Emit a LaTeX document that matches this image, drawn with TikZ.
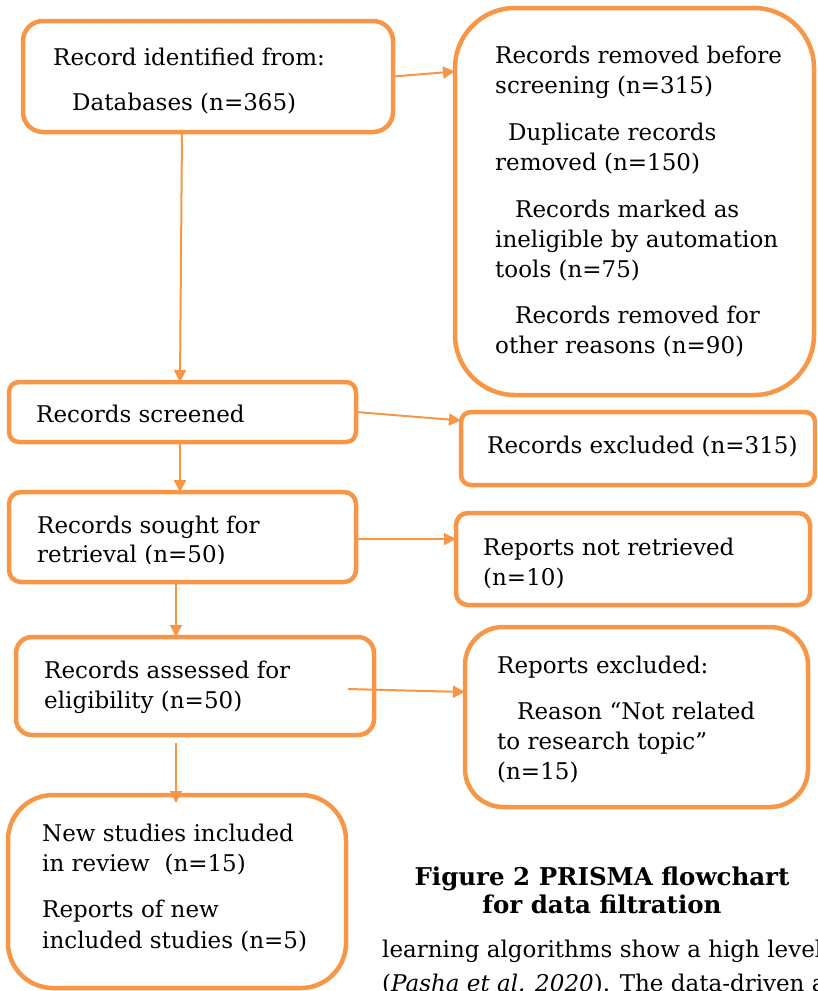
\documentclass[tikz,border=0pt]{standalone}
\usepackage{fontspec}
\setmainfont{DejaVu Serif}
\usetikzlibrary{arrows.meta}
\definecolor{prorange}{HTML}{F79646}
\newcommand\boxfont{\fontsize{23}{28}\selectfont}
\newcommand\capfont{\fontsize{24.5}{29}\selectfont\bfseries}
\tikzset{
  pbox/.style={draw=prorange, line width=4.5pt, anchor=north west, inner sep=0pt, outer sep=0pt},
  txt/.style={anchor=base west, inner sep=0pt, font=\boxfont},
  captxt/.style={anchor=base, inner sep=0pt, font=\capfont},
  arr/.style={draw=prorange, line width=2pt, -{Triangle[length=12pt,width=12pt]}}
}
\begin{document}
\begin{tikzpicture}[x=1pt,y=-1pt]
\useasboundingbox (0,0) rectangle (817,991);
\clip (0,0) rectangle (817,991);
% boxes
\node[pbox, rounded corners=20pt, minimum width=370pt, minimum height=111pt] (A) at (23,21) {};
\node[pbox, rounded corners=60pt, minimum width=359pt, minimum height=387pt] (B) at (455,8) {};
\node[pbox, rounded corners=10pt, minimum width=347pt, minimum height=60pt] (C) at (9,382) {};
\node[pbox, rounded corners=10pt, minimum width=354pt, minimum height=73pt] (D) at (461,412) {};
\node[pbox, rounded corners=12pt, minimum width=347pt, minimum height=90pt] (E) at (9,492) {};
\node[pbox, rounded corners=12pt, minimum width=354pt, minimum height=92pt] (F) at (456,513) {};
\node[pbox, rounded corners=16pt, minimum width=358pt, minimum height=98pt] (G) at (16,637) {};
\node[pbox, rounded corners=38pt, minimum width=343pt, minimum height=180pt] (H) at (465,627) {};
\node[pbox, rounded corners=45pt, minimum width=338pt, minimum height=193pt] (I) at (8,795) {};
% texts
\node[txt] (a1) at (53,65) {Record identified from:};
\node[txt] (a2) at (72,110) {Databases (n=365)};
\node[txt] (b1) at (495,63) {Records removed before};
\node[txt] (b2) at (495,93) {screening (n=315)};
\node[txt] (b3) at (508,140) {Duplicate records};
\node[txt] (b4) at (495,170) {removed (n=150)};
\node[txt] (b5) at (515,217) {Records marked as};
\node[txt] (b6) at (495,247) {ineligible by automation};
\node[txt] (b7) at (495,277) {tools (n=75)};
\node[txt] (b8) at (515,323) {Records removed for};
\node[txt] (b9) at (495,353) {other reasons (n=90)};
\node[txt] (c1) at (36,422) {Records screened};
\node[txt] (d1) at (487,453) {Records excluded (n=315)};
\node[txt] (e1) at (37,533) {Records sought for};
\begin{scope}
\clip (0,0) rectangle (817,563);
\node[txt] (e2) at (37,562) {retrieval (n=50)};
\end{scope}
\node[txt] (f1) at (483,555) {Reports not retrieved};
\begin{scope}
\clip (0,0) rectangle (817,587);
\node[txt] (f2) at (483,585) {(n=10)};
\end{scope}
\node[txt] (g1) at (44,678) {Records assessed for};
\node[txt] (g2) at (44,708) {eligibility (n=50)};
\node[txt] (h1) at (497,673) {Reports excluded:};
\node[txt] (h2) at (517,719) {Reason “Not related};
\node[txt] (h3) at (497,749) {to research topic”};
\node[txt] (h4) at (497,779) {(n=15)};
\node[txt] (i1) at (42,841) {New studies included};
\node[txt] (i2) at (42,871) {in review\ \ (n=15)};
\node[txt] (i3) at (42,917) {Reports of new};
\node[txt] (i4) at (42,948) {included studies (n=5)};
% caption and body text
\node[captxt] (cap1) at (602,885) {Figure 2 PRISMA flowchart};
\node[captxt] (cap2) at (602,913) {for data filtration};
\node[txt] (body1) at (382,957) {learning\ algorithms\ show\ a\ high\ level};
\node[txt] (body2) at (382,991) {(\textit{Pasha et al. 2020}). The data-driven a};
% connectors
\draw[arr] (A.east) -- ([yshift=130pt]B.west);
\draw[arr] ([xshift=-26pt]A.south) -- ([xshift=-2.5pt]C.north);
\draw[arr] (C.east) -- ([yshift=28pt]D.west);
\draw[arr] ([xshift=-2.5pt]C.south) -- ([xshift=-2.5pt]E.north);
\draw[arr] ([yshift=-2pt]E.east) -- ([yshift=20pt]F.west);
\draw[arr] ([xshift=-6.5pt]E.south) -- ([xshift=-6.5pt]E.south |- G.north);
\draw[arr] ([xshift=-26pt,yshift=-3pt]G.east) -- ([yshift=25pt]H.west);
\draw[arr] ([xshift=-19pt,yshift=-8pt]G.south) -- ([xshift=-19pt,yshift=-8pt]G.south |- I.north);
\end{tikzpicture}
\end{document}
